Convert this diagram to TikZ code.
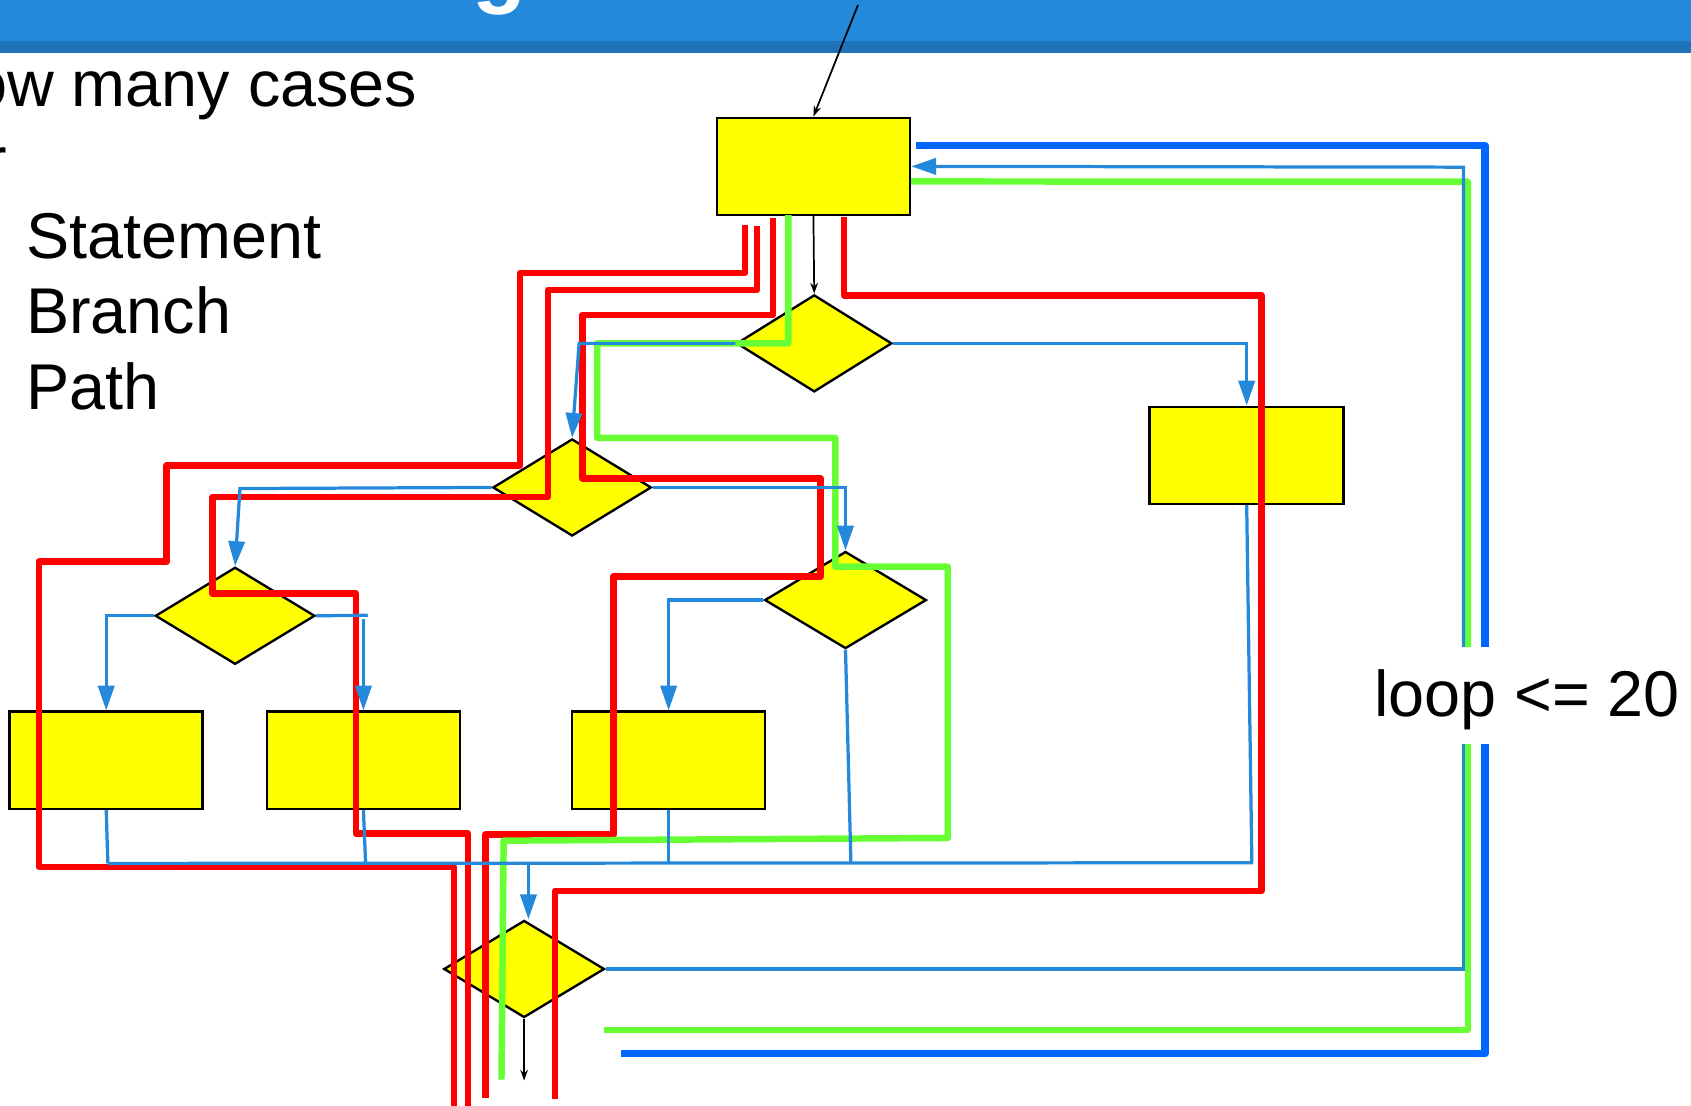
\documentclass[tikz,border=0pt]{standalone}
\usepackage{fontspec}
\setmainfont{Liberation Sans}
\usetikzlibrary{shapes.geometric,arrows.meta}
\definecolor{hdr}{HTML}{2488DB}
\definecolor{hdrdark}{HTML}{1F73B9}
\definecolor{cblue}{HTML}{2488DB}
\definecolor{tblue}{HTML}{0066FF}
\definecolor{tgreen}{HTML}{66FF33}
\definecolor{tred}{HTML}{FF0000}
\definecolor{fillyel}{HTML}{FFFF00}
\begin{document}
\begin{tikzpicture}[x=1pt,y=-1pt,
  box/.style={draw=black,line width=2.4pt,fill=fillyel,rectangle,minimum width=179pt,minimum height=90pt,inner sep=0pt},
  dia/.style={draw=black,line width=2.2pt,fill=fillyel,diamond,minimum width=147pt,minimum height=90pt,inner sep=0pt},
  conn/.style={draw=cblue,line width=3pt},
  arr/.style={-{Triangle[length=23pt,width=15pt]}},
  blk/.style={draw=black,line width=1.6pt,-{Stealth[length=10pt,width=7pt]}},
  redp/.style={draw=tred,line width=6pt,line join=round},
  grnp/.style={draw=tgreen,line width=6pt,line join=round},
  bigblue/.style={draw=tblue,line width=7pt,line join=round},
  txt/.style={inner sep=0pt,font=\fontsize{60}{72}\selectfont}
]
\useasboundingbox (0,0) rectangle (1568,1025);
% header
\fill[hdr] (0,0) rectangle (1568,38);
\fill[hdrdark] (0,38) rectangle (1568,49);
\node[anchor=base west,inner sep=0pt,text=white,font=\bfseries\fontsize{82}{90}\selectfont] (ttl) at (438,-3) {g};
% texts
\node[txt,anchor=base east] (how) at (387,99) {How many cases};
\node[txt,anchor=base east] (frag) at (6.5,169) {r};
\node[txt,anchor=base west] (st) at (24,239.5) {Statement};
\node[txt,anchor=base west] (br) at (24,309) {Branch};
\node[txt,anchor=base west] (pa) at (24,379.6) {Path};
\node[txt,anchor=base west] (loop) at (1274,664.6) {loop <= 20};
% shapes
\node[box] (b0) at (754.25,154.25) {};
\node[dia,minimum width=144pt] (d1) at (755,318.4) {};
\node[box,minimum width=180pt] (b1) at (1156,422.25) {};
\node[dia] (d2) at (530.5,452) {};
\node[dia,minimum width=148pt] (d3) at (218,571) {};
\node[dia,minimum width=150pt] (d4) at (784,556.4) {};
\node[box] (b2) at (98.5,705) {};
\node[box] (b3) at (337,705) {};
\node[box] (b4) at (620,705) {};
\node[dia,minimum width=149pt] (d5) at (486,898.5) {};
% red paths
\draw[redp] (691,208.6) -- (691,253) -- (482,253) -- (482,431.5) -- (154.5,431.5) -- (154.5,520.8) -- (36,520.8) -- (36,803.7) -- (421,803.7) -- (421,1030);
\draw[redp] (702,210) -- (702,269) -- (508,269) -- (508,461) -- (197,461) -- (197,550.5) -- (330,550.5) -- (330,773) -- (434,773) -- (434,1030);
\draw[redp] (717,202) -- (717,292) -- (540,292) -- (540,443.5) -- (761,443.5) -- (761,534.7) -- (569,534.7) -- (569,774) -- (450,774) -- (450,1018);
\draw[redp] (782.7,201) -- (782.7,274) -- (1169.7,274) -- (1169.7,826) -- (514.5,826) -- (514.5,1019);
% green paths
\coordinate (g1s) at ([yshift=-14pt]b0.east);
\draw[grnp] (g1s) -- (1361,168.5) -- (1361,600);
\draw[grnp] (1361,690) -- (1361,955) -- (560,955);
\draw[grnp] (731,199.5) -- (731,318.4) -- (553.6,318.4) -- (553.6,406) -- (774.5,406) -- (774.5,525.5) -- (878.8,525.5) -- (878.8,777) -- (467,779.5) -- (465,1001);
% thick blue
\draw[bigblue] (849.5,135) -- (1377,135) -- (1377,600);
\draw[bigblue] (1377,690) -- (1377,977) -- (575.5,977);
% thin blue connectors
\draw[conn,arr] (d1.east) -| (b1.north);
\draw[conn,arr] (d1.west) -- (537,318.4) -- (d2.north);
\draw[conn,arr] (d2.west) -- (222.5,453) -- (d3.north);
\draw[conn,arr] (d2.east) -| (d4.north);
\draw[conn,arr] (d3.west) -| (b2.north);
\draw[conn] (d3.east) -- (341,570.5);
\draw[conn,arr] (337,574) -- (b3.north);
\draw[conn,arr] (d4.west) -| (b4.north);
\coordinate (bus1) at (100,800.6);
\coordinate (bus2) at (1162,800);
\coordinate (busd) at (490,800.4);
\draw[conn] (d4.south) -- (789,800);
\draw[conn] (b2.south) -- (bus1);
\draw[conn] (b3.south) -- (339,800.6);
\draw[conn] (b4.south) -- (620,800.4);
\draw[conn] (b1.south) -- (1160.8,800);
\draw[conn] (bus1) -- (bus2);
\draw[conn,arr] (busd) -- ([xshift=4pt]d5.north);
\draw[conn] (d5.east) -- (1357,898.5) -- (1357,690);
\draw[conn,arr] (1357,600) -- (1357,155) -- (b0.east);
% black arrows
\coordinate (entry) at (795.6,4.6);
\draw[blk] (entry) -- (b0.north);
\draw[blk] (b0.south) -- (d1.north);
\coordinate (exitp) at (486,1002);
\draw[blk] (d5.south) -- (exitp);
\end{tikzpicture}
\end{document}
